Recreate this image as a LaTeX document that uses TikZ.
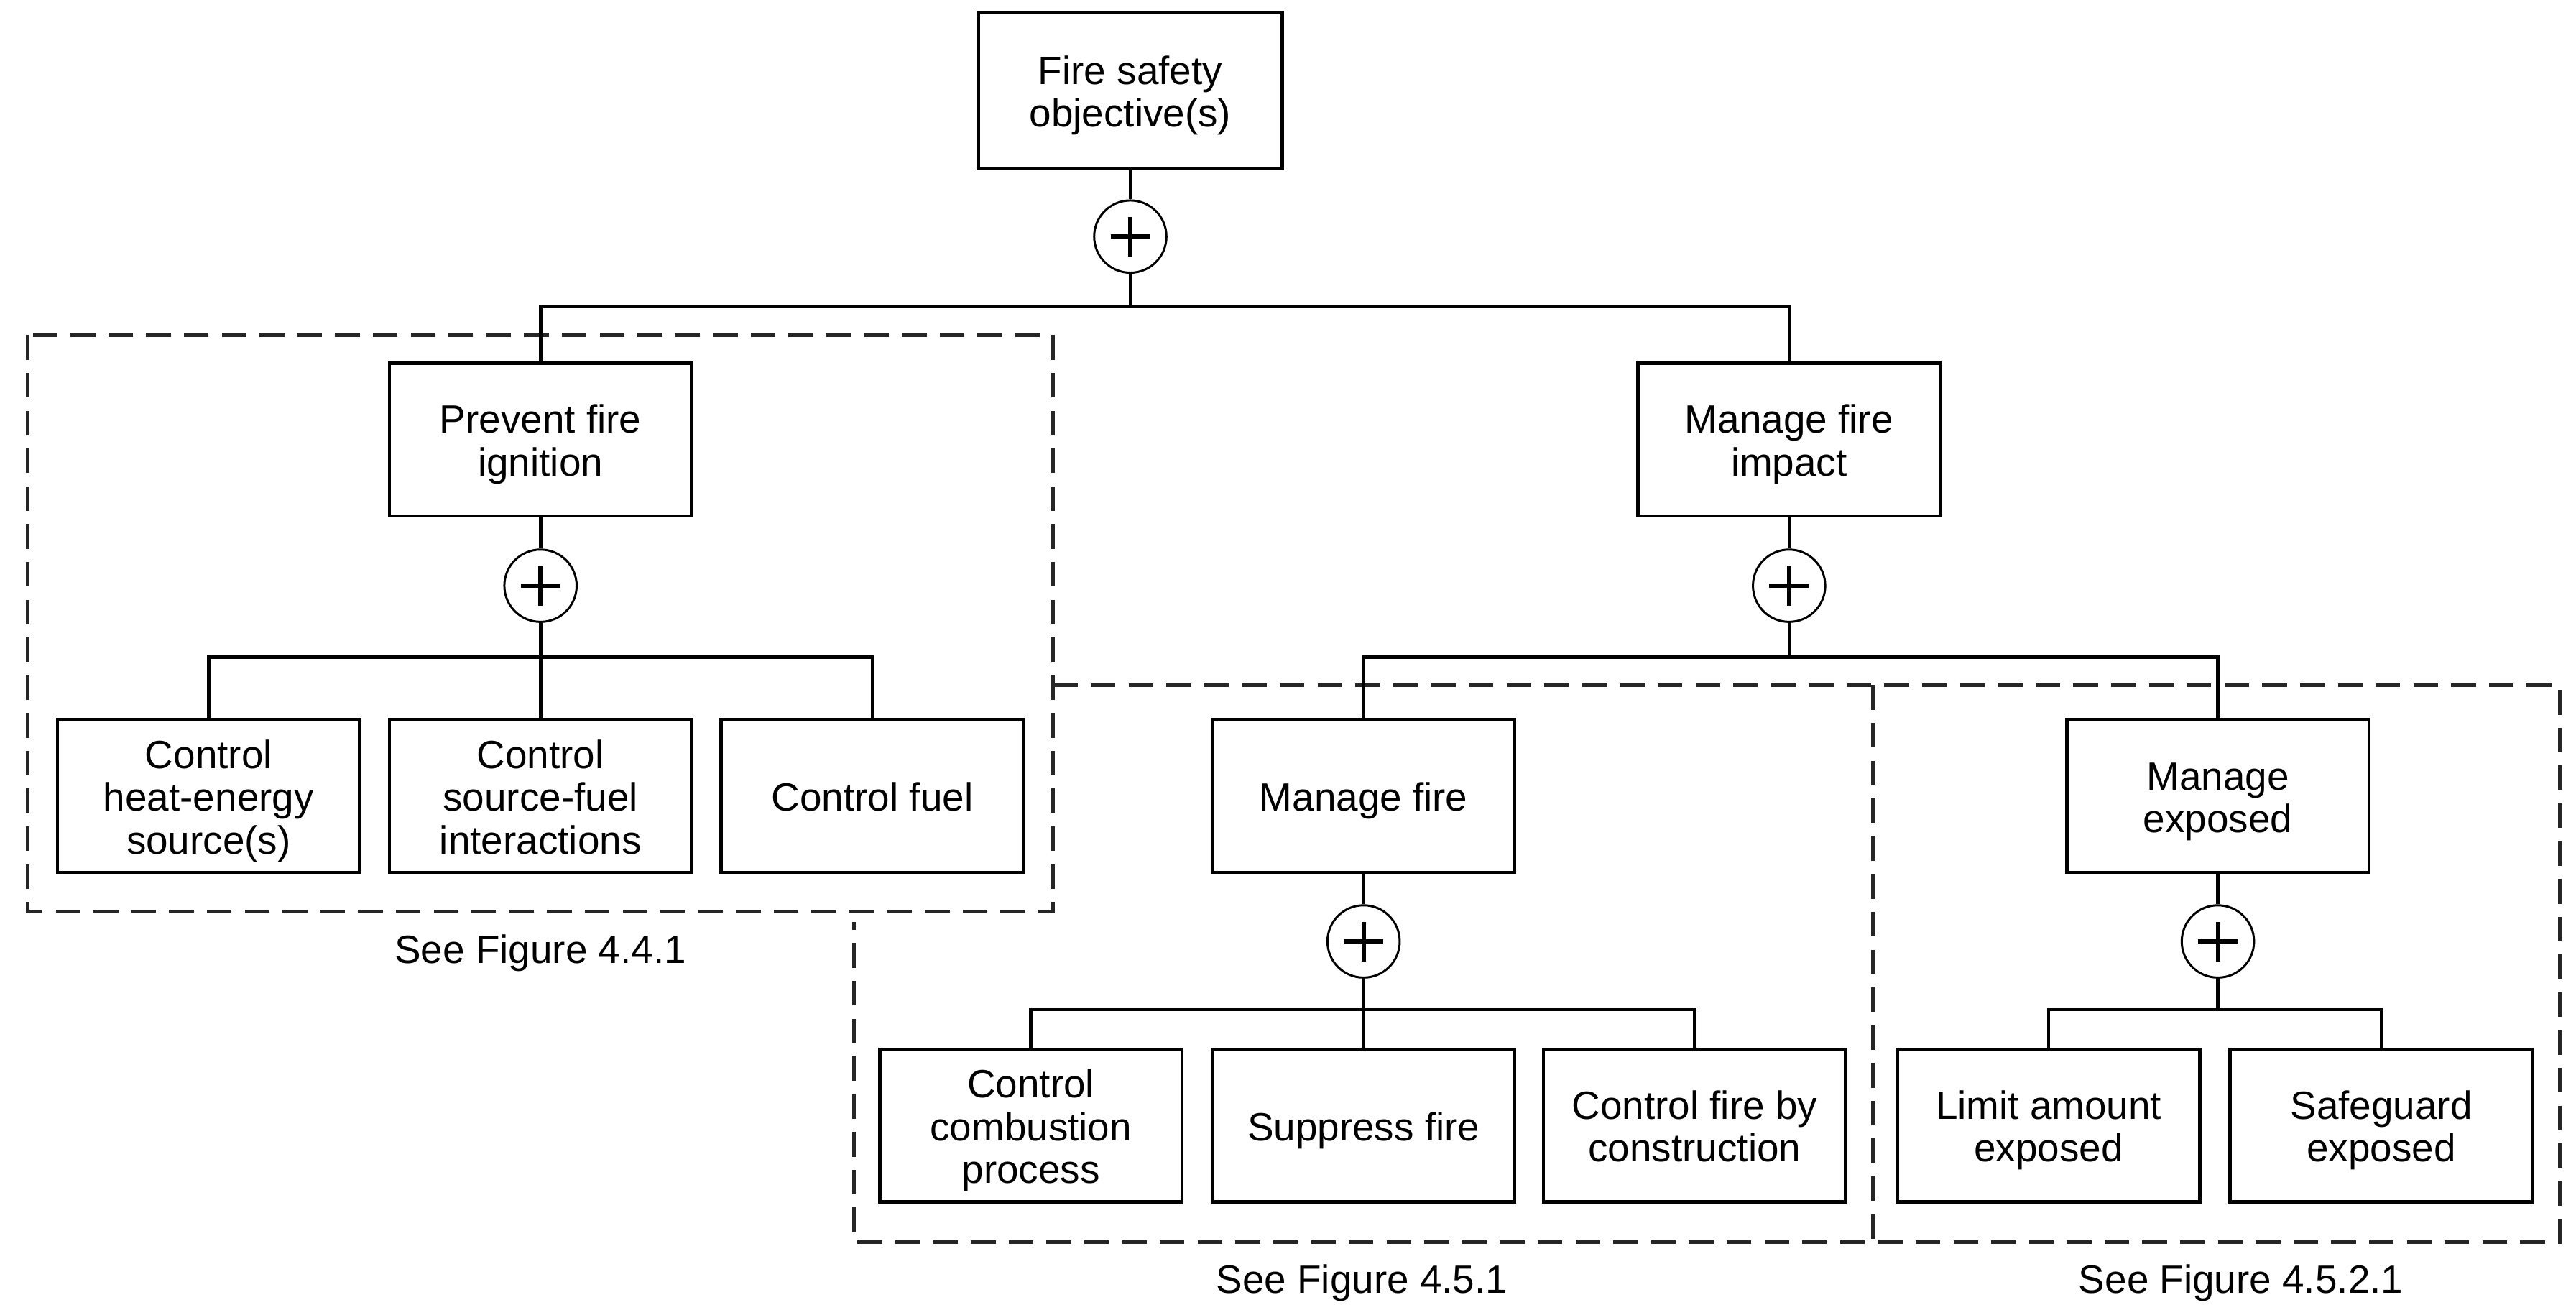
\documentclass[tikz,border=0pt]{standalone}
\usepackage{fontspec}
\setmainfont{Liberation Sans}
\newcommand\bxt[1]{\raisebox{-4pt}[\height][\depth]{\begin{tabular}{@{}c@{}}#1\end{tabular}}}
\begin{document}
\begin{tikzpicture}[x=1pt,y=-1pt,
  box/.style={draw, line width=2pt, rectangle, minimum width=184pt, minimum height=93pt, inner sep=0pt, font=\fontsize{24}{26}\selectfont},
  plusnode/.style={draw, circle, line width=1.3pt, minimum size=44pt, inner sep=0pt, fill=white,
     path picture={\draw[line width=2.6pt] ([xshift=-12pt]path picture bounding box.center) -- ([xshift=12pt]path picture bounding box.center);
                   \draw[line width=2.6pt] ([yshift=-12pt]path picture bounding box.center) -- ([yshift=12pt]path picture bounding box.center);}},
  conn/.style={line width=2pt},
  dashbox/.style={line width=2.2pt, dash pattern=on 15pt off 8pt, color=black!85},
  seecap/.style={font=\fontsize{24}{26}\selectfont, inner sep=0pt}
]
\useasboundingbox (0,0) rectangle (1568,794);

% dashed regions
\draw[dashbox] (17,204) rectangle (641,555);
\draw[dashbox] (641,417) -- (1558,417) -- (1558,756) -- (520,756) -- (520,561);
\draw[dashbox] (1140,417) -- (1140,756);

% boxes
\node[box, minimum width=185pt, minimum height=95pt] (top) at (688,55) {\bxt{Fire safety\\objective(s)}};
\node[box] (prev) at (329,267.5) {\bxt{Prevent fire\\ignition}};
\node[box] (impact) at (1089,267.5) {\bxt{Manage fire\\impact}};
\node[box] (c1) at (127,484.5) {\bxt{Control\\heat-energy\\source(s)}};
\node[box] (c2) at (329,484.5) {\bxt{Control\\source-fuel\\interactions}};
\node[box] (c3) at (531,484.5) {\bxt{Control fuel}};
\node[box] (mfire) at (830,484.5) {\bxt{Manage fire}};
\node[box] (mexp) at (1350,484.5) {\bxt{Manage\\exposed}};
\node[box] (b1) at (627.5,685) {\bxt{Control\\combustion\\process}};
\node[box] (b2) at (830,685) {\bxt{Suppress fire}};
\node[box] (b3) at (1031.5,685) {\bxt{Control fire by\\construction}};
\node[box] (b4) at (1247,685) {\bxt{Limit amount\\exposed}};
\node[box] (b5) at (1449.5,685) {\bxt{Safeguard\\exposed}};

% plus nodes
\node[plusnode] (p0) at (688,144) {};
\node[plusnode] (p1) at (329,356.5) {};
\node[plusnode] (p2) at (1089,356.5) {};
\node[plusnode] (p3) at (830,573) {};
\node[plusnode] (p4) at (1350,573) {};

% junctions
\coordinate (j0) at (688,186.5);
\coordinate (j1) at (329,400);
\coordinate (j2) at (1089,400);
\coordinate (j3) at (830,614.5);
\coordinate (j4) at (1350,614.5);

% connectors
\draw[conn] (top) -- (p0);
\draw[conn] (p0) -- (j0);
\draw[conn] (prev.north) |- (j0) -| (impact.north);

\draw[conn] (prev) -- (p1);
\draw[conn] (p1) -- (c2.north);
\draw[conn] (c1.north) |- (j1) -| (c3.north);

\draw[conn] (impact) -- (p2);
\draw[conn] (p2) -- (j2);
\draw[conn] (mfire.north) |- (j2) -| (mexp.north);

\draw[conn] (mfire) -- (p3);
\draw[conn] (p3) -- (b2.north);
\draw[conn] (b1.north) |- (j3) -| (b3.north);

\draw[conn] (mexp) -- (p4);
\draw[conn] (p4) -- (j4);
\draw[conn] (b4.north) |- (j4) -| (b5.north);

% captions
\node[seecap] (s1) at (329,580) {See Figure 4.4.1};
\node[seecap] (s2) at (829,781) {See Figure 4.5.1};
\node[seecap] (s3) at (1364,781) {See Figure 4.5.2.1};
\end{tikzpicture}
\end{document}
